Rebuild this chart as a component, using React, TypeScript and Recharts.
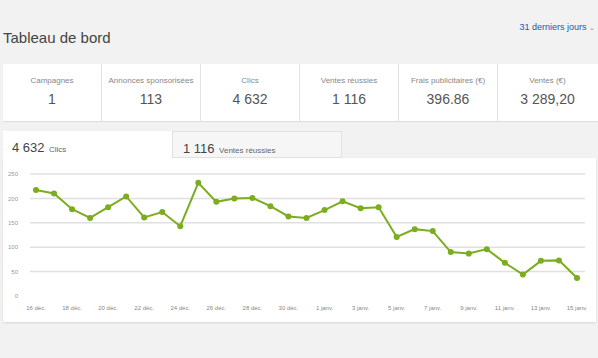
import React from "react";
import { LineChart, Line, XAxis, YAxis, CartesianGrid } from "recharts";

const days = [
  "16 déc.", "17 déc.", "18 déc.", "19 déc.", "20 déc.", "21 déc.", "22 déc.", "23 déc.",
  "24 déc.", "25 déc.", "26 déc.", "27 déc.", "28 déc.", "29 déc.", "30 déc.", "31 déc.",
  "1 janv.", "2 janv.", "3 janv.", "4 janv.", "5 janv.", "6 janv.", "7 janv.", "8 janv.",
  "9 janv.", "10 janv.", "11 janv.", "12 janv.", "13 janv.", "14 janv.", "15 janv.",
];
const clicks = [
  217, 210, 178, 160, 182, 204, 161, 172, 143, 232, 193, 200, 201, 184, 163, 160,
  176, 194, 180, 182, 121, 137, 133, 90, 87, 96, 68, 44, 72, 73, 37,
];
const yTicks = [0, 50, 100, 150, 200, 250];

const kpiLabels = ["Campagnes", "Annonces sponsorisées", "Clics", "Ventes réussies", "Frais publicitaires (€)", "Ventes (€)"];
const kpiValues = ["1", "113", "4 632", "1 116", "396.86", "3 289,20"];

const data = days.map((d, i) => ({ day: d, clics: clicks[i] }));

const font = "'Liberation Sans', Arial, sans-serif";

const App: React.FC = () => {
  return (
    <div
      style={{
        position: "absolute",
        left: 0,
        top: 0,
        width: 598,
        height: 358,
        background: "#f2f2f2",
        fontFamily: font,
        overflow: "hidden",
      }}
    >
      <div style={{ position: "absolute", left: 3, top: 29, fontSize: 15, color: "#444" }}>
        Tableau de bord
      </div>
      <div
        style={{
          position: "absolute",
          right: 3,
          top: 22,
          fontSize: 9,
          color: "#2557b0",
          whiteSpace: "nowrap",
        }}
      >
        31 derniers jours <span style={{ color: "#888", fontSize: 7 }}>⌄</span>
      </div>

      <div
        style={{
          position: "absolute",
          left: 3,
          top: 64,
          width: 600,
          height: 57,
          background: "#fff",
          display: "flex",
          boxShadow: "0 1px 1px rgba(0,0,0,0.08)",
        }}
      >
        {kpiLabels.map((l, i) => (
          <div
            key={l}
            style={{
              width: 99,
              borderRight: i < 5 ? "1px solid #e3e3e3" : "none",
              textAlign: "center",
              boxSizing: "border-box",
            }}
          >
            <div style={{ fontSize: 8, color: "#888", marginTop: 12 }}>{l}</div>
            <div style={{ fontSize: 14, color: "#555", marginTop: 6 }}>{kpiValues[i]}</div>
          </div>
        ))}
      </div>

      <div
        style={{
          position: "absolute",
          left: 172,
          top: 131,
          width: 170,
          height: 27,
          background: "#f6f6f6",
          border: "1px solid #e2e2e2",
          boxSizing: "border-box",
        }}
      >
        <div style={{ position: "absolute", left: 10, top: 7, color: "#444", whiteSpace: "nowrap" }}>
          <span style={{ fontSize: 13 }}>1 116</span>{" "}
          <span style={{ fontSize: 8, color: "#666" }}>Ventes réussies</span>
        </div>
      </div>

      <div
        style={{
          position: "absolute",
          left: 3,
          top: 158,
          width: 593,
          height: 164,
          background: "#fff",
          boxShadow: "0 1px 2px rgba(0,0,0,0.12)",
        }}
      />
      <div
        style={{
          position: "absolute",
          left: 3,
          top: 131,
          width: 169,
          height: 28,
          background: "#fff",
        }}
      >
        <div style={{ position: "absolute", left: 9, top: 7, color: "#444", whiteSpace: "nowrap" }}>
          <span style={{ fontSize: 13 }}>4 632</span>{" "}
          <span style={{ fontSize: 8, color: "#666" }}>Clics</span>
        </div>
      </div>

      <div style={{ position: "absolute", left: 0, top: 160 }}>
        <LineChart
          width={598}
          height={160}
          data={data}
          margin={{ top: 14, right: 13, left: 8, bottom: 4 }}
        >
          <CartesianGrid
            vertical={false}
            horizontalValues={[50, 100, 150, 200, 250]}
            stroke="#e0e0e0"
            strokeWidth={1.5}
          />
          <XAxis
            dataKey="day"
            interval={1}
            axisLine={false}
            tickLine={false}
            height={20}
            padding={{ left: 6, right: 8 }}
            tick={{ fontSize: 6, fill: "#888", fontFamily: font }}
            tickMargin={4}
          />
          <YAxis
            domain={[0, 250]}
            ticks={yTicks}
            width={22}
            axisLine={false}
            tickLine={false}
            tick={{ fontSize: 6, fill: "#999", fontFamily: font }}
            tickMargin={6}
          />
          <Line
            type="linear"
            dataKey="clics"
            stroke="#7cac1f"
            strokeWidth={2}
            dot={{ r: 3, fill: "#7cac1f", stroke: "#7cac1f", strokeWidth: 0 }}
            isAnimationActive={false}
          />
        </LineChart>
      </div>
    </div>
  );
};

export default App;
